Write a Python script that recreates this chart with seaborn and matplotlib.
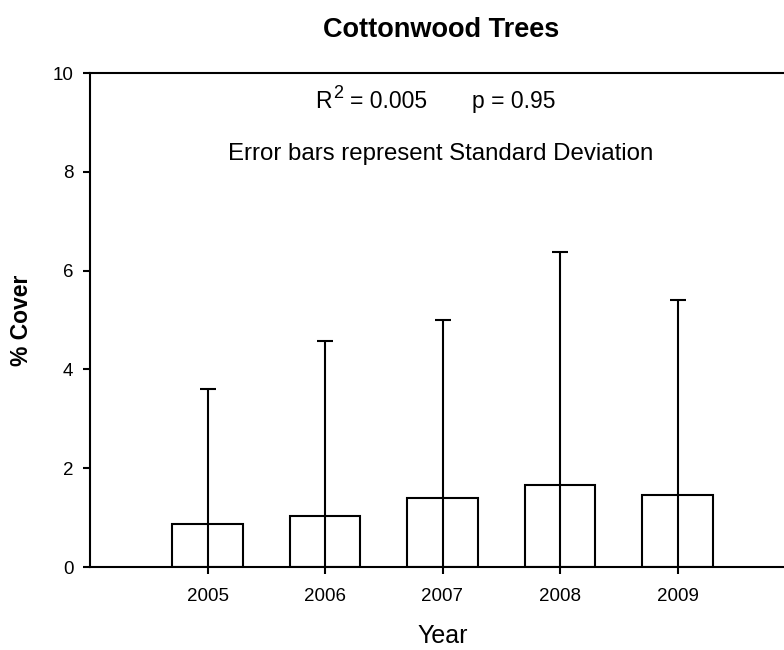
import matplotlib
matplotlib.use("Agg")
import matplotlib.pyplot as plt
import seaborn as sns
import pandas as pd

# Mean percent cover of cottonwood trees by survey year, with standard deviation
years = ["2005", "2006", "2007", "2008", "2009"]
mean_cover = [0.87, 1.04, 1.40, 1.67, 1.46]
sd_cover = [2.73, 3.54, 3.60, 4.71, 3.94]
y_ticks = [0, 2, 4, 6, 8, 10]

df = pd.DataFrame({"Year": years, "Cover": mean_cover})

sns.set_style("ticks")
plt.rcParams["font.family"] = ["Liberation Sans", "DejaVu Sans"]
plt.rcParams["text.color"] = "black"
plt.rcParams["axes.labelcolor"] = "black"

fig = plt.figure(figsize=(7.84, 6.5), dpi=100)
ax = fig.add_axes([90 / 784, 83 / 650, 705 / 784, 494 / 650])

sns.barplot(data=df, x="Year", y="Cover", ax=ax, width=0.6,
            color="white", edgecolor="black", linewidth=1.5,
            errorbar=None, zorder=2)
ax.errorbar(range(len(years)), mean_cover, yerr=sd_cover, fmt="none",
            ecolor="black", elinewidth=1.5, capsize=5.8, capthick=1.5,
            zorder=3)

ax.set_xlim(-1, 5)
ax.set_ylim(0, 10)
ax.set_yticks(y_ticks)
ax.set_yticklabels([str(t) for t in y_ticks])

for side in ("left", "bottom", "top"):
    ax.spines[side].set_linewidth(1.5)
    ax.spines[side].set_color("black")
ax.spines["right"].set_visible(False)

ax.tick_params(axis="both", direction="out", length=5, width=1.5,
               labelsize=13.5, colors="black")
ax.tick_params(axis="y", pad=7)
ax.tick_params(axis="x", pad=10)

ax.set_xlabel("Year", fontsize=18, labelpad=14)
ax.set_ylabel("% Cover", fontsize=16.5, fontweight="bold", labelpad=14)

fig.text(441 / 784, 1 - 30 / 650, "Cottonwood Trees", ha="center",
         va="center", fontsize=19.5, fontweight="bold")

# R-squared with a large raised "2", then the p-value
ax.text(0.92, 9.29, "R", ha="left", va="baseline", fontsize=16.5)
ax.text(1.065, 9.49, "2", ha="left", va="baseline", fontsize=13)
ax.text(1.21, 9.29, "= 0.005", ha="left", va="baseline", fontsize=16.5)
ax.text(2.61, 9.29, "p = 0.95", ha="center", va="baseline", fontsize=16.5)
ax.text(1.985, 8.24, "Error bars represent Standard Deviation", ha="center",
        va="baseline", fontsize=17.3)

fig.savefig("out.png", dpi=100)
